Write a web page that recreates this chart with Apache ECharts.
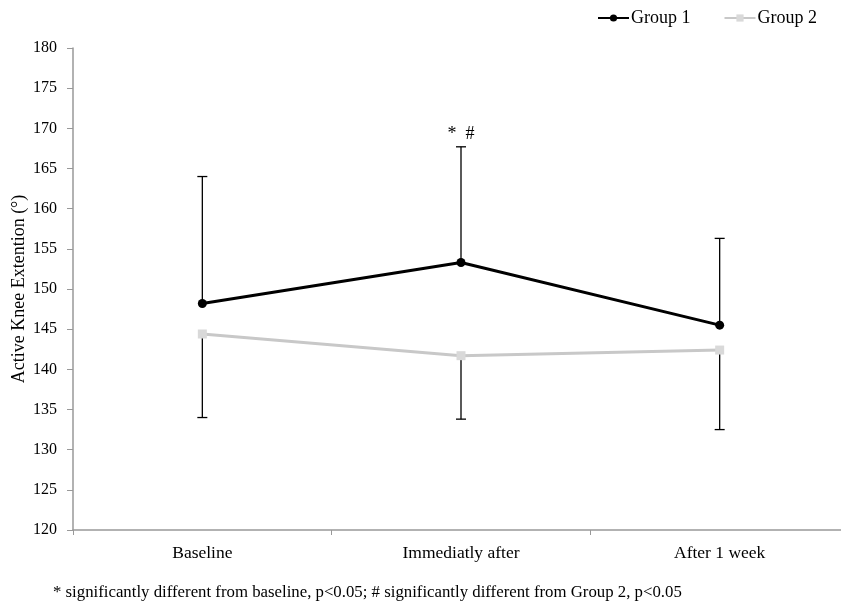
<!DOCTYPE html>
<html>
<head>
<meta charset="utf-8">
<script src="https://cdn.jsdelivr.net/npm/echarts@6/dist/echarts.min.js"></script>
<style>
html,body{margin:0;padding:0;background:#fff;overflow:hidden;width:841px;height:607px;}
#chart{width:849px;height:607px;}
</style>
</head>
<body>
<div id="chart"></div>
<script>
var categories = ['Baseline', 'Immediatly after', 'After 1 week'];
var group1Mean = [148.2, 153.3, 145.5];
var group1Upper = [164.0, 167.7, 156.3];
var group2Mean = [144.4, 141.7, 142.4];
var group2Lower = [134.0, 133.8, 132.5];
var yTicks = [120, 180, 5];

var FONT = 'Liberation Serif';
var chart = echarts.init(document.getElementById('chart'));

function errorBar(lowArr, highArr) {
  return categories.map(function (c, i) { return [i, lowArr[i], highArr[i]]; });
}

function renderErr(params, api) {
  var x = api.value(0);
  var p1 = api.coord([x, api.value(1)]);
  var p2 = api.coord([x, api.value(2)]);
  var capPt = params.seriesName === 'g1err' ? p2 : p1;
  var half = 5;
  var style = { stroke: '#000', lineWidth: 1.3 };
  return {
    type: 'group',
    children: [
      { type: 'line', shape: { x1: p1[0], y1: p1[1], x2: p2[0], y2: p2[1] }, style: style },
      { type: 'line', shape: { x1: capPt[0] - half, y1: capPt[1], x2: capPt[0] + half, y2: capPt[1] }, style: style }
    ]
  };
}

chart.setOption({
  animation: false,
  backgroundColor: '#fff',
  textStyle: { fontFamily: FONT },
  legend: {
    top: 4,
    left: 592,
    itemWidth: 31,
    itemHeight: 9,
    itemGap: 33,
    textStyle: { fontFamily: FONT, fontSize: 18, color: '#000', padding: [0, 0, 0, -3] },
    data: ['Group 1', 'Group 2']
  },
  grid: { left: 73, right: 0, top: 48, bottom: 77, containLabel: false, outerBoundsMode: 'none' },
  xAxis: {
    type: 'category',
    data: categories,
    boundaryGap: true,
    axisLine: { lineStyle: { color: '#999', width: 1.5 } },
    axisTick: { show: true, length: 5, lineStyle: { color: '#999' } },
    axisLabel: { fontFamily: FONT, fontSize: 17.5, color: '#000', margin: 14 }
  },
  yAxis: {
    type: 'value',
    min: yTicks[0],
    max: yTicks[1],
    interval: yTicks[2],
    name: 'Active Knee Extention (°)',
    nameLocation: 'middle',
    nameGap: 45,
    nameMoveOverlap: false,
    nameTextStyle: { fontFamily: FONT, fontSize: 18, color: '#000' },
    splitLine: { show: false },
    axisLine: { show: true, lineStyle: { color: '#999', width: 1.5 } },
    axisTick: { show: true, length: 6, lineStyle: { color: '#999' } },
    axisLabel: { fontFamily: FONT, fontSize: 16, color: '#000', margin: 16 }
  },
  series: [
    {
      name: 'g1err', type: 'custom', renderItem: renderErr, z: 1,
      data: errorBar(group1Mean, group1Upper), silent: true
    },
    {
      name: 'g2err', type: 'custom', renderItem: renderErr, z: 1,
      data: errorBar(group2Lower, group2Mean), silent: true
    },
    {
      name: 'Group 2', type: 'line', data: group2Mean, z: 3,
      symbol: 'rect', symbolSize: 9,
      lineStyle: { color: '#c8c8c8', width: 3 },
      itemStyle: { color: '#d9d9d9' }
    },
    {
      name: 'Group 1', type: 'line', data: group1Mean, z: 4,
      symbol: 'circle', symbolSize: 9,
      lineStyle: { color: '#000', width: 3 },
      itemStyle: { color: '#000' },
      markPoint: {
        symbol: 'rect', symbolSize: 1, itemStyle: { color: 'transparent' },
        label: { show: true, formatter: '*  #', fontFamily: FONT, fontSize: 18, color: '#000', position: 'top', distance: 3 },
        data: [{ coord: [1, group1Upper[1]] }]
      }
    }
  ],
  graphic: [
    {
      type: 'text', left: 53, top: 584,
      style: { text: '* significantly different from baseline, p<0.05; # significantly different from Group 2, p<0.05', fontFamily: FONT, fontSize: 16.8, fill: '#000' }
    }
  ]
});
</script>
</body>
</html>
